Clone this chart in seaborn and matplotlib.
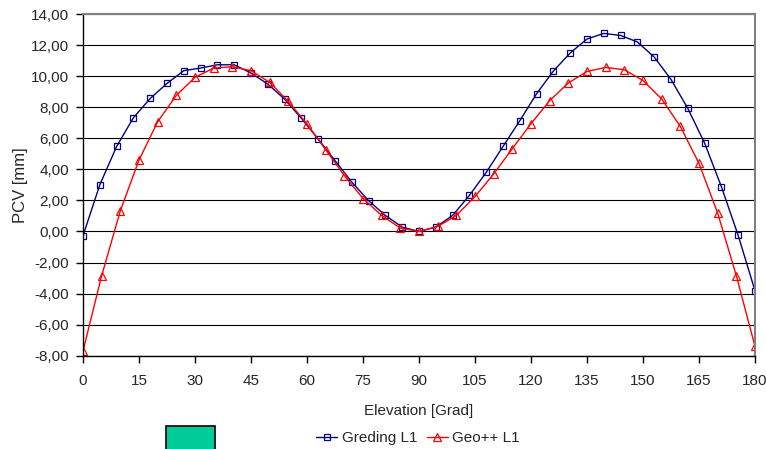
import numpy as np
import pandas as pd
import matplotlib
matplotlib.use("Agg")
import matplotlib.pyplot as plt
from matplotlib.patches import Rectangle
from matplotlib.ticker import FuncFormatter
import seaborn as sns

# Greding L1: every 4.5 degrees
elev_greding = np.arange(0, 180.1, 4.5)
pcv_greding = [-0.28, 3.00, 5.47, 7.32, 8.56, 9.53, 10.35, 10.52, 10.73, 10.73,
               10.20, 9.49, 8.52, 7.28, 5.95, 4.56, 3.18, 1.98, 1.03, 0.28,
               0.00, 0.28, 1.03, 2.32, 3.80, 5.47, 7.13, 8.87, 10.33, 11.49,
               12.39, 12.75, 12.62, 12.20, 11.23, 9.79, 7.92, 5.69, 2.88, -0.26,
               -3.82]

# Geo++ L1: every 5 degrees
elev_geopp = np.arange(0, 180.1, 5)
pcv_geopp = [-7.70, -2.85, 1.33, 4.60, 7.06, 8.76, 9.92, 10.52, 10.60, 10.35,
             9.60, 8.37, 6.92, 5.26, 3.60, 2.12, 1.03, 0.22, 0.00, 0.32,
             1.03, 2.25, 3.70, 5.33, 6.94, 8.42, 9.56, 10.30, 10.56, 10.41,
             9.72, 8.53, 6.76, 4.38, 1.18, -2.85, -7.40]

x_ticks = list(range(0, 181, 15))
y_ticks = list(range(-8, 15, 2))

df_greding = pd.DataFrame({"Elevation": elev_greding, "PCV": pcv_greding})
df_geopp = pd.DataFrame({"Elevation": elev_geopp, "PCV": pcv_geopp})

sns.set_style("white")
plt.rcParams['font.family'] = ['Liberation Sans', 'DejaVu Sans']

fig = plt.figure(figsize=(7.66, 4.49), dpi=100)
ax = fig.add_axes([83/766, 1 - 355.7/449, 672/766, (355.7 - 14)/449])

sns.lineplot(data=df_greding, x="Elevation", y="PCV", ax=ax, color="#000080",
             marker="s", markersize=5, markerfacecolor="none",
             markeredgecolor="#000080", markeredgewidth=0.9, linewidth=1,
             label="Greding L1")
sns.lineplot(data=df_geopp, x="Elevation", y="PCV", ax=ax, color="#FF0000",
             marker="^", markersize=5.5, markerfacecolor="none",
             markeredgecolor="#FF0000", markeredgewidth=0.9, linewidth=1,
             label="Geo++ L1")

ax.set_xlim(0, 180)
ax.set_ylim(-8, 14)
ax.set_xticks(x_ticks)
ax.set_yticks(y_ticks)
ax.yaxis.set_major_formatter(FuncFormatter(lambda v, p: f"{v:.2f}".replace(".", ",")))
ax.grid(axis="y", color="black", linewidth=0.8)
ax.set_axisbelow(True)

for s in ["left", "bottom"]:
    ax.spines[s].set_color("black")
    ax.spines[s].set_linewidth(1)
for s in ["top", "right"]:
    ax.spines[s].set_color("#808080")
    ax.spines[s].set_linewidth(1.5)

ax.tick_params(axis="x", direction="out", length=5, width=1, color="black",
               labelsize=11, pad=8, bottom=True)
ax.tick_params(axis="y", direction="out", length=5, width=1, color="black",
               labelsize=11, pad=5, left=True)

ax.set_xlabel("Elevation [Grad]", fontsize=11)
ax.xaxis.set_label_coords(0.5, (355.7 - 404) / 341.7)
ax.set_ylabel("PCV [mm]", fontsize=12)
ax.yaxis.set_label_coords((28 - 83) / 672, 0.5)

handles, labels = ax.get_legend_handles_labels()
ax.get_legend().remove()
fig.legend(handles, labels, loc="center", bbox_to_anchor=(418/766, 1 - 438/449),
           ncol=2, frameon=False, fontsize=11, handlelength=1.4,
           handletextpad=0.3, columnspacing=0.6)

fig.patches.append(Rectangle((166/766, -0.05), 49/766, 0.05 + 1 - 425.5/449,
                             transform=fig.transFigure, facecolor="#00CC99",
                             edgecolor="black", linewidth=1.2))

fig.savefig("out.png", dpi=100)
